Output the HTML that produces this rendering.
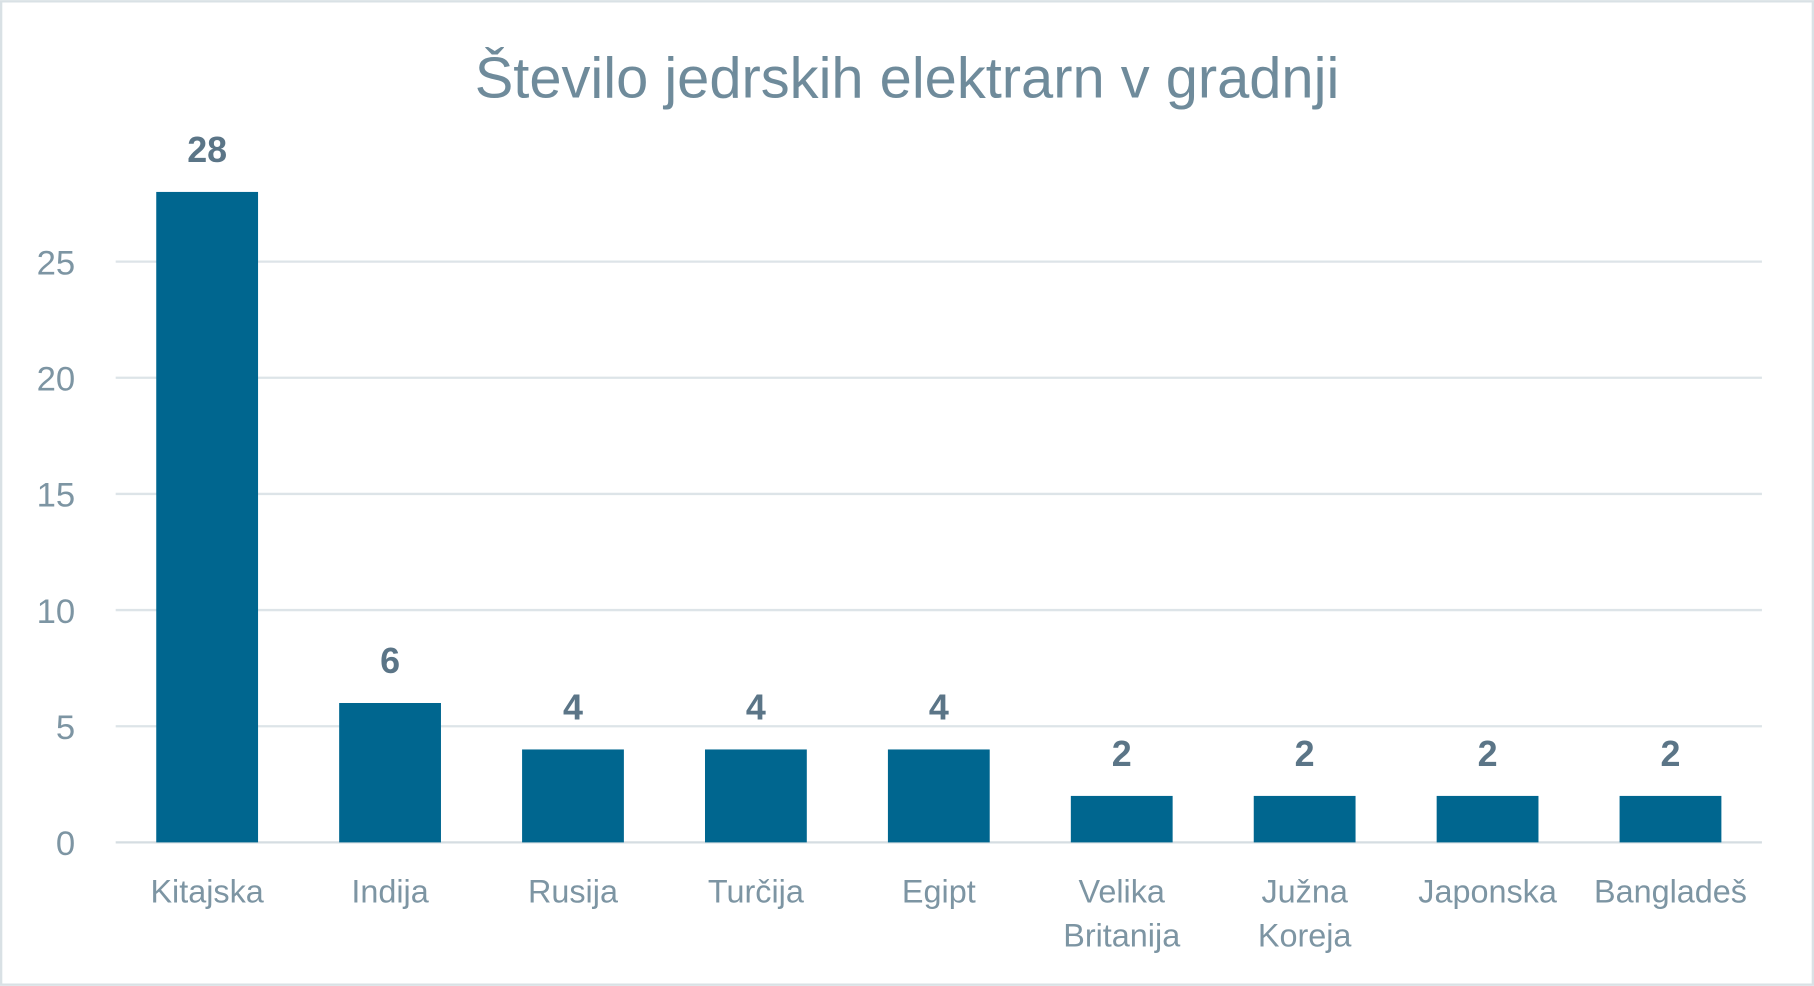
<!DOCTYPE html>
<html><head><meta charset="utf-8"><style>
html,body{margin:0;padding:0;background:#fff;}
svg{display:block;font-family:"Liberation Sans",sans-serif;}
</style></head><body>
<svg id="chart" width="1814" height="986" viewBox="0 0 1568 852">
<rect x="1" y="1" width="1566" height="850" fill="#fff" stroke="#d9e1e5" stroke-width="2"/>
<text x="784" y="84" text-anchor="middle" font-size="50" fill="#6f8b9b">Število jedrskih elektrarn v gradnji</text>
<g id="grid"></g><g id="bars"></g>
</svg>
<script>
const categories=[["Kitajska"],["Indija"],["Rusija"],["Turčija"],["Egipt"],["Velika","Britanija"],["Južna","Koreja"],["Japonska"],["Bangladeš"]];
const values=[28,6,4,4,4,2,2,2,2];
const ticks=[0,5,10,15,20,25];
const NS="http://www.w3.org/2000/svg";
const x0=100,x1=1523,yBase=728,pxPer=(728-226)/25;
const y=v=>yBase-v*pxPer;
const band=(x1-x0)/categories.length;
const cx=i=>x0+band*(i+0.5);
const grid=document.getElementById('grid'),bars=document.getElementById('bars');
function mk(tag,attrs,parent,text){const e=document.createElementNS(NS,tag);for(const k in attrs)e.setAttribute(k,attrs[k]);if(text!=null)e.textContent=text;parent.appendChild(e);return e;}
ticks.forEach(t=>{
 const l=mk('line',{x1:x0,x2:x1,y1:y(t),y2:y(t),stroke:t===0?'#d5dde2':'#dde4e8','stroke-width':2},grid);
 
 
 const tx=mk('text',{x:65,y:y(t)+11,'text-anchor':'end','font-size':30,fill:'#7d95a3'},grid,String(t));
 
 
});
values.forEach((v,i)=>{
 const bw=88;
 const r=mk('rect',{x:cx(i)-bw/2,y:y(v),width:bw,height:yBase-y(v),fill:'#00668f'},bars);
 
 
 const vl=mk('text',{x:cx(i),y:y(v)-26,'text-anchor':'middle','font-size':31,'font-weight':'bold',fill:'#5b7587'},bars,String(v));
 
 
 categories[i].forEach((ln,j)=>{
  const c=mk('text',{x:cx(i),y:780+j*38,'text-anchor':'middle','font-size':28,fill:'#7d95a3'},bars,ln);
  
  
 });
});
</script>
</body></html>
